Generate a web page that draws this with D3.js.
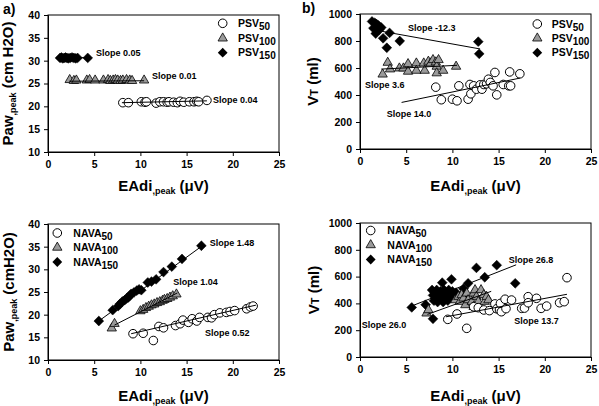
<!DOCTYPE html>
<html><head><meta charset="utf-8">
<script src="https://cdn.jsdelivr.net/npm/d3@7"></script>
<style>
body{margin:0;background:#fff;}
svg{display:block;font-family:"Liberation Sans",Arial,sans-serif;font-weight:bold;}
</style></head>
<body><svg id="c" width="599" height="406"></svg>
<script>
// ---------- DATA ----------
const xTicks = [0, 5, 10, 15, 20, 25];
const pawTicks = [10, 15, 20, 25, 30, 35, 40];
const vtTicks = [0, 200, 400, 600, 800, 1000];

// Panel a: PSV, Paw,peak
const psv50A_x = [8.1, 8.7, 10.1, 10.5, 10.65, 11.7, 12.1, 12.5, 12.9, 13.1, 13.6, 14.0, 14.3, 14.7, 15.3, 15.8, 16.1, 16.3, 17.2];
const psv50A_y = [20.8, 20.8, 21.0, 20.9, 21.0, 20.7, 21.0, 21.0, 20.9, 21.0, 20.9, 20.8, 21.1, 20.9, 21.0, 21.0, 21.1, 21.0, 21.3];
const psv100A_x = [2.35, 2.8, 3.07, 4.2, 4.5, 5.1, 6.0, 6.5, 6.75, 7.05, 7.3, 7.55, 7.85, 8.1, 8.5, 8.85, 9.1, 10.4];
const psv100A_y = [25.8, 25.6, 25.7, 25.7, 25.8, 25.7, 25.7, 25.8, 25.6, 25.7, 25.8, 25.7, 25.6, 25.7, 25.8, 25.7, 25.6, 25.7];
const psv150A_x = [1.3, 1.45, 1.6, 1.75, 1.9, 2.05, 2.2, 2.4, 2.6, 2.8, 3.0, 3.2, 4.3];
const psv150A_y = [30.6, 30.7, 30.5, 30.6, 30.7, 30.6, 30.5, 30.6, 30.7, 30.6, 30.5, 30.6, 30.6];
const fitA = [[8.0, 20.8, 17.2, 21.2], [2.3, 25.5, 10.4, 25.6], [1.3, 30.5, 4.3, 30.7]];
const slopeA = [["Slope 0.04", 17.85, 20.7], ["Slope 0.01", 11.25, 26.0], ["Slope 0.05", 5.2, 31.0]];

// Panel b: PSV, VT
const psv50B_x = [8.2, 8.8, 10.0, 10.5, 10.7, 11.7, 11.9, 12.0, 12.3, 12.6, 13.0, 13.2, 13.4, 13.7, 13.9, 14.1, 14.4, 14.6, 14.8, 15.5, 16.1, 16.2, 16.3, 17.3];
const psv50B_y = [458, 365, 369, 357, 468, 369, 478, 409, 468, 443, 475, 443, 478, 483, 517, 493, 468, 567, 401, 478, 468, 571, 468, 557];
const psv100B_x = [2.45, 3.0, 3.25, 4.26, 4.7, 5.2, 5.2, 6.1, 6.1, 6.9, 7.0, 7.4, 7.65, 7.9, 8.2, 8.3, 8.3, 8.5, 9.0, 10.4];
const psv100B_y = [553, 640, 591, 598, 598, 630, 574, 635, 581, 635, 581, 648, 635, 660, 643, 611, 562, 660, 581, 611];
const psv150B_x = [1.3, 1.45, 1.6, 1.7, 1.8, 2.0, 2.1, 2.3, 2.5, 2.9, 3.2, 4.3, 12.8, 12.9];
const psv150B_y = [945, 895, 935, 855, 925, 915, 885, 900, 820, 750, 860, 800, 795, 705];
const fitB = [[4.5, 345, 17.3, 525], [2.3, 592, 10.5, 620], [1.3, 885, 13.0, 741]];
const slopeB = [["Slope 14.0", 2.9, 237], ["Slope 3.6", 0.54, 452], ["Slope -12.3", 5.2, 874]];

// Panel c: NAVA, Paw,peak
const nava50C_x = [9.2, 10.3, 11.4, 12.0, 12.5, 13.8, 14.3, 14.6, 15.2, 15.6, 16.1, 16.4, 17.3, 17.7, 18.0, 18.6, 19.3, 19.7, 20.2, 21.5, 21.9, 22.2];
const nava50C_y = [15.8, 15.9, 14.3, 17.4, 17.1, 17.6, 18.0, 18.8, 18.3, 19.1, 18.6, 19.4, 19.4, 19.3, 20.0, 20.4, 20.5, 20.7, 20.9, 21.3, 21.7, 21.9];
const nava100C_x = [6.9, 7.2, 10.0, 10.3, 10.6, 10.9, 11.2, 11.5, 11.8, 12.1, 12.4, 12.6, 12.9, 13.2, 13.5, 13.9];
const nava100C_y = [17.0, 18.0, 20.8, 21.1, 21.5, 21.8, 22.1, 22.3, 22.6, 22.8, 23.1, 23.3, 23.5, 23.8, 24.1, 24.5];
const nava150C_x = [5.5, 7.0, 7.6, 7.8, 8.05, 8.3, 8.5, 8.7, 8.85, 9.0, 9.3, 9.6, 9.85, 10.1, 10.8, 11.2, 11.7, 12.5, 13.4, 14.5, 16.6];
const nava150C_y = [18.6, 21.0, 21.9, 22.4, 22.9, 23.2, 23.6, 23.8, 24.2, 24.6, 24.9, 25.3, 25.6, 25.4, 27.1, 27.3, 27.8, 29.4, 30.6, 32.3, 35.2];
const fitC = [[9.0, 15.8, 22.5, 22.1], [7.2, 17.7, 14.0, 24.8], [5.5, 18.6, 16.7, 35.2]];
const slopeC = [["Slope 0.52", 17.0, 15.3], ["Slope 1.04", 13.56, 26.5], ["Slope 1.48", 17.5, 35.1]];

// Panel d: NAVA, VT
const nava50D_x = [9.5, 10.5, 11.55, 12.3, 12.8, 13.4, 14.0, 14.6, 14.8, 15.1, 15.2, 15.3, 15.7, 15.8, 16.4, 17.5, 17.8, 18.2, 18.2, 19.1, 19.6, 20.2, 21.6, 22.1, 22.4];
const nava50D_y = [281, 321, 214, 375, 368, 351, 346, 396, 360, 351, 400, 338, 431, 361, 425, 363, 365, 450, 405, 438, 363, 380, 405, 413, 592];
const nava100D_x = [7.2, 7.4, 10.3, 10.65, 10.8, 11.0, 11.2, 11.4, 11.55, 11.7, 12.1, 12.3, 12.3, 12.45, 12.6, 12.8, 13.1, 13.4, 13.5, 13.7, 13.9];
const nava100D_y = [326, 351, 425, 450, 413, 463, 438, 388, 475, 425, 413, 475, 375, 500, 450, 413, 500, 463, 413, 450, 425];
const nava150D_x = [5.6, 7.1, 7.9, 7.8, 7.9, 8.0, 8.1, 8.2, 8.3, 8.4, 8.5, 8.6, 8.7, 8.8, 8.9, 8.9, 9.0, 9.1, 9.2, 9.3, 9.4, 9.5, 9.6, 9.7, 9.9, 9.9, 10.0, 10.2, 10.4, 11.2, 11.3, 11.7, 12.6, 13.5, 14.8, 16.8];
const nava150D_y = [370, 390, 285, 500, 460, 420, 480, 440, 500, 410, 470, 450, 490, 430, 555, 470, 410, 500, 440, 480, 460, 420, 500, 470, 580, 440, 490, 460, 480, 510, 460, 550, 665, 595, 685, 550];
const fitD = [[9.3, 300, 22.4, 468], [7.3, 318, 14.2, 490], [5.5, 378, 16.9, 688]];
const slopeD = [["Slope 13.7", 16.7, 247], ["Slope 26.0", 0.2, 216], ["Slope 26.8", 16.1, 704]];

// ---------- DRAW ----------
const svg = d3.select("#c");
const zip = (xs, ys) => xs.map((x, i) => [x, ys[i]]);

function panel(cfg) {
  const x = d3.scaleLinear().domain([0, 25]).range([cfg.x0, cfg.x1]);
  const y = d3.scaleLinear().domain(cfg.ydom).range([cfg.y1, cfg.y0]);
  const g = svg.append("g");
  g.append("rect").attr("x", cfg.x0).attr("y", cfg.y0)
    .attr("width", cfg.x1 - cfg.x0).attr("height", cfg.y1 - cfg.y0)
    .attr("fill", "none").attr("stroke", "#000").attr("stroke-width", 1);
  const ax = g.append("g").attr("transform", `translate(0,${cfg.y1})`)
    .call(d3.axisBottom(x).tickValues(xTicks).tickFormat(d3.format("d")).tickSize(4).tickPadding(5));
  const ay = g.append("g").attr("transform", `translate(${cfg.x0},0)`)
    .call(d3.axisLeft(y).tickValues(cfg.yticks).tickFormat(d3.format("d")).tickSize(4).tickPadding(4));
  [ax, ay].forEach(a => {
    a.attr("font-family", "Liberation Sans, Arial, sans-serif").attr("font-size", 10.5);
    a.selectAll("text").attr("font-weight", "bold").attr("fill", "#000");
    a.selectAll("line,path").attr("stroke", "#000");
  });

  const [s50, s100, s150] = cfg.series;
  g.selectAll(".d").data(s150).enter().append("path")
    .attr("d", d3.symbol().type(d3.symbolSquare).size(48)())
    .attr("transform", d => `translate(${x(d[0])},${y(d[1])}) rotate(45)`)
    .attr("fill", "#000").attr("stroke", "#000").attr("stroke-width", 0.5);
  g.selectAll(".t").data(s100).enter().append("path")
    .attr("d", d3.symbol().type(d3.symbolTriangle).size(38)())
    .attr("transform", d => `translate(${x(d[0])},${y(d[1])})`)
    .attr("fill", "#9a9a9a").attr("stroke", "#000").attr("stroke-width", 0.8);
  g.selectAll(".o").data(s50).enter().append("circle")
    .attr("cx", d => x(d[0])).attr("cy", d => y(d[1])).attr("r", 4.3)
    .attr("fill", "#fff").attr("stroke", "#000").attr("stroke-width", 1);
  g.selectAll(".f").data(cfg.fits).enter().append("line")
    .attr("x1", d => x(d[0])).attr("y1", d => y(d[1]))
    .attr("x2", d => x(d[2])).attr("y2", d => y(d[3]))
    .attr("stroke", "#000").attr("stroke-width", 1);
  g.selectAll(".s").data(cfg.slopes).enter().append("text")
    .attr("x", d => x(d[1])).attr("y", d => y(d[2]))
    .attr("font-size", 9).text(d => d[0]);

  const L = cfg.legend;
  const shapes = ["circle", "tri", "dia"];
  cfg.legendNames.forEach((nm, i) => {
    const cy = L.rows[i];
    if (shapes[i] === "circle") {
      g.append("circle").attr("cx", L.sx).attr("cy", cy).attr("r", 4.3)
        .attr("fill", "#fff").attr("stroke", "#000");
    } else if (shapes[i] === "tri") {
      g.append("path").attr("d", d3.symbol().type(d3.symbolTriangle).size(38)())
        .attr("transform", `translate(${L.sx},${cy})`)
        .attr("fill", "#9a9a9a").attr("stroke", "#000").attr("stroke-width", 0.8);
    } else {
      g.append("path").attr("d", d3.symbol().type(d3.symbolSquare).size(48)())
        .attr("transform", `translate(${L.sx},${cy}) rotate(45)`).attr("fill", "#000");
    }
    const t = g.append("text").attr("x", L.tx).attr("y", cy + 3.5).attr("font-size", 10.5);
    t.append("tspan").text(nm[0]);
    t.append("tspan").attr("dy", 3).attr("font-size", 10).text(nm[1]);
  });

  const xt = g.append("text").attr("x", (cfg.x0 + cfg.x1) / 2).attr("y", cfg.xtY)
    .attr("text-anchor", "middle").attr("font-size", 15);
  xt.append("tspan").text("EAdi");
  xt.append("tspan").attr("font-size", 9).attr("dy", 3).text(",peak");
  xt.append("tspan").attr("dy", -3).text(" (\u03BCV)");

  const yt = g.append("text")
    .attr("transform", `translate(${cfg.ytX},${(cfg.y0 + cfg.y1) / 2}) rotate(-90)`)
    .attr("text-anchor", "middle").attr("font-size", 15);
  if (cfg.vt) {
    yt.append("tspan").text("V");
    yt.append("tspan").attr("font-size", 11).text("T");
    yt.append("tspan").text(" (ml)");
  } else {
    yt.append("tspan").text("Paw");
    yt.append("tspan").attr("font-size", 9).attr("dy", 3).text(",peak");
    yt.append("tspan").attr("dy", -3).text(cfg.pawUnit);
  }
  if (cfg.tag) {
    svg.append("text").attr("x", cfg.tag[1]).attr("y", cfg.tag[2])
      .attr("font-size", 14).text(cfg.tag[0]);
  }
}

panel({
  x0: 48, x1: 279, y0: 15, y1: 152, ydom: [10, 40], yticks: pawTicks,
  series: [zip(psv50A_x, psv50A_y), zip(psv100A_x, psv100A_y), zip(psv150A_x, psv150A_y)],
  fits: fitA, slopes: slopeA,
  legendNames: [["PSV", "50"], ["PSV", "100"], ["PSV", "150"]],
  legend: { sx: 222.7, tx: 238, rows: [23.3, 38.3, 52.7] },
  xtY: 191, ytX: 13, pawUnit: " (cm H2O)", tag: ["a)", 3, 14]
});
panel({
  x0: 360, x1: 591, y0: 14, y1: 149, ydom: [0, 1000], yticks: vtTicks,
  series: [zip(psv50B_x, psv50B_y), zip(psv100B_x, psv100B_y), zip(psv150B_x, psv150B_y)],
  fits: fitB, slopes: slopeB,
  legendNames: [["PSV", "50"], ["PSV", "100"], ["PSV", "150"]],
  legend: { sx: 537.3, tx: 551.7, rows: [24, 38.3, 52.7] },
  xtY: 191, ytX: 318, vt: true, tag: ["b)", 302, 13]
});
panel({
  x0: 48, x1: 279, y0: 224, y1: 360, ydom: [10, 40], yticks: pawTicks,
  series: [zip(nava50C_x, nava50C_y), zip(nava100C_x, nava100C_y), zip(nava150C_x, nava150C_y)],
  fits: fitC, slopes: slopeC,
  legendNames: [["NAVA", "50"], ["NAVA", "100"], ["NAVA", "150"]],
  legend: { sx: 57.3, tx: 73.3, rows: [233, 247.5, 262] },
  xtY: 401, ytX: 14, pawUnit: " (cmH2O)"
});
panel({
  x0: 360, x1: 591, y0: 223, y1: 357, ydom: [0, 1000], yticks: vtTicks,
  series: [zip(nava50D_x, nava50D_y), zip(nava100D_x, nava100D_y), zip(nava150D_x, nava150D_y)],
  fits: fitD, slopes: slopeD,
  legendNames: [["NAVA", "50"], ["NAVA", "100"], ["NAVA", "150"]],
  legend: { sx: 370.7, tx: 387.3, rows: [230.5, 245, 259.5] },
  xtY: 401, ytX: 319, vt: true
});
</script></body></html>
